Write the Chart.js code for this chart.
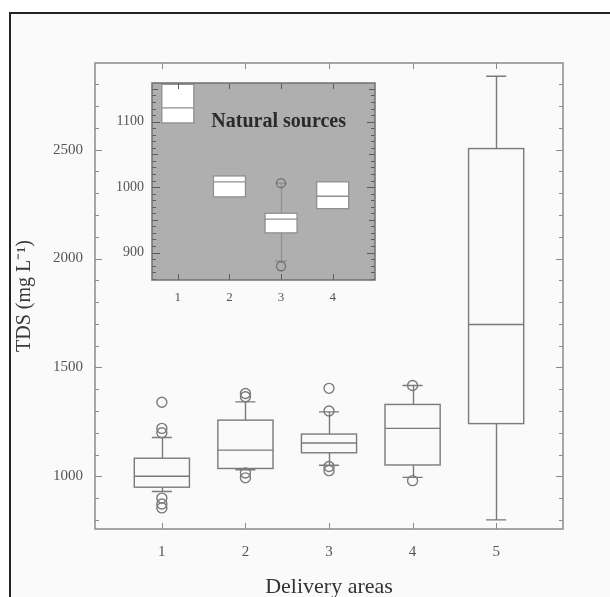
<!DOCTYPE html>
<html>
<head>
<meta charset="utf-8">
<script src="https://cdn.jsdelivr.net/npm/chart.js@4"></script>
<style>
body{margin:0;background:#fff;overflow:hidden}
#wrap{position:relative;width:610px;height:597px;overflow:hidden}
#frame{position:absolute;left:9px;top:12px;width:700px;height:700px;border:2px solid #222;background:#fafafa}
#main{position:absolute;left:0;top:0}
#inset{position:absolute;left:110px;top:75px}
</style>
</head>
<body>
<div id="wrap">
<div id="frame"></div>
<canvas id="main" width="610" height="597"></canvas>
<canvas id="inset" width="275" height="235"></canvas>
</div>
<script>
// delivery areas (main plot)
const areas=[1,2,3,4,5]
const q1=[950,1036,1108,1052,1242]
const med=[1000,1120,1153,1220,1697]
const q3=[1083,1258,1194,1330,2505]
const whiskLo=[930,1030,1051,995,800]
const whiskHi=[1178,1342,1296,1417,2837]
const outliers=[
[1,1340],[1,1220],[1,1200],[1,900],[1,873],[1,855],
[2,1380],[2,1365],[2,1015],[2,993],
[3,1404],[3,1300],[3,1045],[3,1026],
[4,1417],[4,980]
]
const yLabelsMain=[1000,1500,2000,2500]

// natural sources (inset)
const natAreas=[1,2,3,4]
const natQ1=[1098,985,930,967]
const natMed=[1121,1008,951,986]
const natQ3=[1157,1017,960,1008]
const natLo=[1098,985,887,967]
const natHi=[1157,1017,1006,1008]
const natOutliers=[[3,1006],[3,879]]
const yLabelsNat=[900,1000,1100]

const serif="'Liberation Serif','Times New Roman',serif"

function noPad(s){s.paddingTop=0;s.paddingBottom=0;s.paddingLeft=0;s.paddingRight=0}

function boxesPlugin(id,cats,lo,a,m,b,hi,st){
return {id:id,beforeDatasetsDraw(chart){
const {ctx,scales:{x,y},chartArea:ca}=chart
ctx.save()
ctx.beginPath()
ctx.rect(ca.left,ca.top,ca.right-ca.left,ca.bottom-ca.top)
ctx.clip()
ctx.strokeStyle=st.color
ctx.lineWidth=st.lw
cats.forEach((c,i)=>{
let xc=Math.round(x.getPixelForValue(c))+0.5
let x0=x.getPixelForValue(c-st.w/2),x1=x.getPixelForValue(c+st.w/2)
let c0=x.getPixelForValue(c-st.cap/2),c1=x.getPixelForValue(c+st.cap/2)
let yA=y.getPixelForValue(a[i]),yB=y.getPixelForValue(b[i])
let yM=y.getPixelForValue(m[i])
let yL=y.getPixelForValue(lo[i]),yH=y.getPixelForValue(hi[i])
ctx.beginPath()
if(lo[i]<a[i]){ctx.moveTo(xc,yA);ctx.lineTo(xc,yL);ctx.moveTo(c0,yL);ctx.lineTo(c1,yL)}
if(hi[i]>b[i]){ctx.moveTo(xc,yB);ctx.lineTo(xc,yH);ctx.moveTo(c0,yH);ctx.lineTo(c1,yH)}
ctx.stroke()
if(st.fill){ctx.fillStyle=st.fill;ctx.fillRect(x0,yB,x1-x0,yA-yB)}
ctx.strokeRect(x0,yB,x1-x0,yA-yB)
ctx.beginPath()
ctx.moveTo(x0,yM);ctx.lineTo(x1,yM)
ctx.stroke()
})
ctx.restore()
}}
}

function framePlugin(id,st){
return {id:id,
beforeDraw(chart){
if(!st.bg)return
const {ctx,chartArea:ca}=chart
ctx.save()
ctx.fillStyle=st.bg
ctx.fillRect(ca.left,ca.top,ca.right-ca.left,ca.bottom-ca.top)
ctx.restore()
},
afterDraw(chart){
const {ctx,scales:{x,y},chartArea:ca}=chart
ctx.save()
ctx.strokeStyle=st.tickColor
ctx.lineWidth=1
ctx.beginPath()
y.ticks.forEach(t=>{
let p=Math.round(y.getPixelForValue(t.value))+0.5
let len=t.value%st.major===0?st.majorLen:(st.mid&&t.value%st.mid===0?st.midLen:st.minorLen)
ctx.moveTo(ca.left,p);ctx.lineTo(ca.left+len,p)
ctx.moveTo(ca.right,p);ctx.lineTo(ca.right-len,p)
})
x.ticks.forEach(t=>{
let p=Math.round(x.getPixelForValue(t.value))+0.5
ctx.moveTo(p,ca.bottom);ctx.lineTo(p,ca.bottom-st.xLen)
ctx.moveTo(p,ca.top);ctx.lineTo(p,ca.top+st.xLen)
})
ctx.stroke()
ctx.strokeStyle=st.border
ctx.lineWidth=st.borderW
ctx.strokeRect(ca.left,ca.top,ca.right-ca.left,ca.bottom-ca.top)
if(st.note){
ctx.fillStyle=st.note.color
ctx.font=st.note.font
ctx.textBaseline='middle'
ctx.fillText(st.note.text,x.getPixelForValue(st.note.x),y.getPixelForValue(st.note.y))
}
ctx.restore()
}}
}

const mainChart=new Chart(document.getElementById('main'),{
type:'scatter',
data:{datasets:[{
data:outliers.map(o=>({x:o[0],y:o[1]})),
pointRadius:5,
pointStyle:'circle',
borderColor:'#7a7a7a',
backgroundColor:'rgba(0,0,0,0)',
borderWidth:1.4
}]},
options:{
responsive:false,
animation:false,
events:[],
layout:{padding:{left:0,right:47,top:63,bottom:0}},
plugins:{legend:{display:false},tooltip:{enabled:false}},
scales:{
x:{type:'linear',min:0.2,max:5.8,
afterFit:s=>{s.height=68;noPad(s)},
grid:{display:false,drawTicks:false},border:{display:false},
ticks:{stepSize:1,includeBounds:false,autoSkip:false,padding:14,color:'#555',
font:{family:serif,size:15},
callback:v=>areas.includes(v)?String(v):''},
title:{display:true,text:'Delivery areas',color:'#333',font:{family:serif,size:22,lineHeight:1},padding:{top:0,bottom:-1}}
},
y:{type:'linear',min:758,max:2898,
afterFit:s=>{s.width=95;noPad(s)},
grid:{display:false,drawTicks:false},border:{display:false},
ticks:{stepSize:100,includeBounds:false,autoSkip:false,padding:12,color:'#555',
font:{family:serif,size:15},
callback:v=>yLabelsMain.includes(v)?String(v):''},
title:{display:true,text:'TDS (mg L\u207B\u00B9)',color:'#3a3a3a',font:{family:serif,size:20,lineHeight:1},padding:{top:15,bottom:0}}
}
}
},
plugins:[
boxesPlugin('mainBoxes',areas,whiskLo,q1,med,q3,whiskHi,{color:'#7a7a7a',lw:1.4,w:0.66,cap:0.24}),
framePlugin('mainFrame',{tickColor:'#8a8a8a',border:'#8a8a8a',borderW:1.5,major:500,majorLen:7,minorLen:4,xLen:6})
]
})

const insetChart=new Chart(document.getElementById('inset'),{
type:'scatter',
data:{datasets:[{
data:natOutliers.map(o=>({x:o[0],y:o[1]})),
pointRadius:4.5,
pointStyle:'circle',
borderColor:'#707070',
backgroundColor:'rgba(0,0,0,0)',
borderWidth:1.3
}]},
options:{
responsive:false,
animation:false,
events:[],
layout:{padding:{left:0,right:10,top:8,bottom:0}},
plugins:{legend:{display:false},tooltip:{enabled:false}},
scales:{
x:{type:'linear',min:0.5,max:4.82,
afterFit:s=>{s.height=30;noPad(s)},
grid:{display:false,drawTicks:false},border:{display:false},
ticks:{stepSize:1,includeBounds:false,autoSkip:false,padding:10,color:'#555',
font:{family:serif,size:13},
callback:v=>natAreas.includes(v)?String(v):''}
},
y:{type:'linear',min:858,max:1159,
afterFit:s=>{s.width=42;noPad(s)},
grid:{display:false,drawTicks:false},border:{display:false},
ticks:{stepSize:10,includeBounds:false,autoSkip:false,padding:8,color:'#555',
font:{family:serif,size:14},
callback:v=>yLabelsNat.includes(v)?String(v):''}
}
}
},
plugins:[
boxesPlugin('natBoxes',natAreas,natLo,natQ1,natMed,natQ3,natHi,{color:'#8f8f8f',lw:1.3,w:0.62,cap:0.22,fill:'#ffffff'}),
framePlugin('natFrame',{bg:'#afafaf',tickColor:'#5a5a5a',border:'#707070',borderW:1.5,major:100,majorLen:8,mid:50,midLen:6,minorLen:4,xLen:6,
note:{text:'Natural sources',x:1.65,y:1099,color:'#2a2a2a',font:'bold 20px '+serif}})
]
})
</script>
</body>
</html>
